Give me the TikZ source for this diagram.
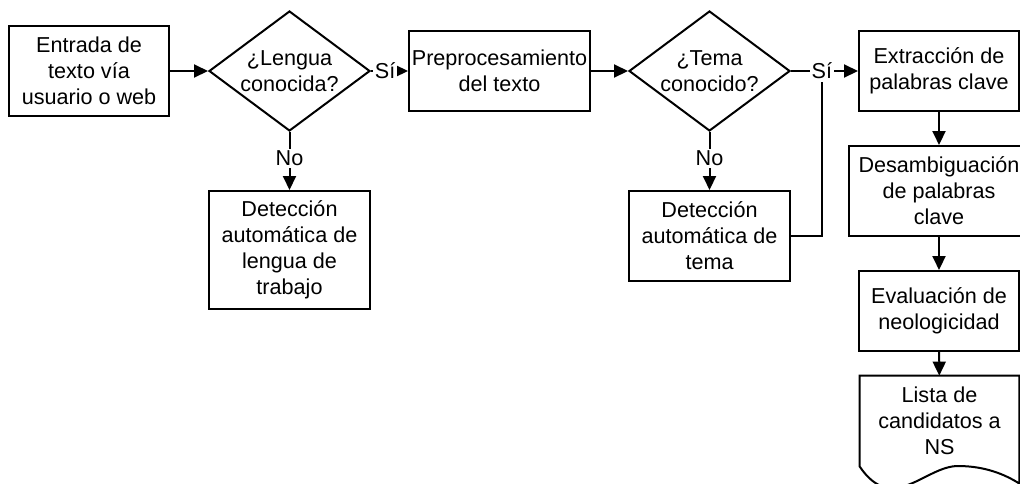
\documentclass[tikz,border=0pt]{standalone}
\usepackage{fontspec}
\setmainfont{Liberation Sans}
\usetikzlibrary{shapes,arrows.meta}
\tikzset{
	proc/.style={rectangle,draw,line width=1pt,align=center,inner sep=1pt},
	decis/.style={diamond,draw,line width=1pt,align=center,inner sep=0pt,aspect=1.34,minimum width=80.5pt,minimum height=60pt},
	docu/.style={rectangle,align=center,inner sep=1pt,minimum width=79.5pt,minimum height=45pt},
	flow/.style={-{Triangle[length=7pt,width=6.5pt]},line width=1pt},
	lbl/.style={fill=white,inner sep=1pt}
}
\begin{document}
\begin{tikzpicture}[x=0.5pt,y=-0.5pt,font=\fontsize{10.8}{13}\selectfont]
	\useasboundingbox (0,0) rectangle (1020,483);
	\clip (0,0) rectangle (1020,483);
	
	%%main row
	\node[proc,minimum width=80pt,minimum height=45pt] (entrada) at (89,71) {Entrada de\\texto vía\\usuario o web};
	\node[decis] (lengua) at (289.5,71) {¿Lengua\\conocida?};
	\node[proc,minimum width=90.5pt,minimum height=40pt] (prepro) at (499.5,71) {Preprocesamiento\\del texto};
	\node[decis] (tema) at (709.5,71) {¿Tema\\conocido?};
	\node[proc,minimum width=80pt,minimum height=40pt] (extrac) at (939,71) {Extracción de\\palabras clave};
	
	%%detection boxes
	\node[proc,minimum width=80.5pt,minimum height=59pt] (detleng) at (289.5,250) {Detección\\automática de\\lengua de\\trabajo};
	\node[proc,minimum width=80.5pt,minimum height=45pt] (dettema) at (709.5,236) {Detección\\automática de\\tema};
	
	%%right column
	\node[proc,minimum width=90pt,minimum height=45pt] (desamb) at (939,191) {Desambiguación\\de palabras\\clave};
	\node[proc,minimum width=80pt,minimum height=40pt] (evalua) at (939,311) {Evaluación de\\neologicidad};
	\node[docu] (lista) at (939.5,421) {Lista de\\candidatos a\\NS};
	\draw[line width=1pt] (lista.north west) -- (lista.north east) -- ++(0,108)
		.. controls +(-14,-9) and +(27,0) .. (958,466)
		.. controls +(-33,0) and +(33,49) .. (lista.south west) -- cycle;
	
	%%edges
	\draw[flow] (entrada) -- (lengua);
	\draw[flow] (lengua) to node[lbl,pos=0.38] (si1) {Sí} (prepro);
	\draw[flow] (prepro) -- (tema);
	\draw[flow] (tema) to node[lbl,pos=0.46] (si2) {Sí} (extrac);
	\draw[flow] (lengua) to node[lbl,pos=0.45] (no1) {No} (detleng);
	\draw[flow] (tema) to node[lbl,pos=0.45] (no2) {No} (dettema);
	\draw[line width=1pt] (dettema) -| (si2);
	
	\draw[flow] (extrac) -- (desamb);
	\draw[flow] (desamb) -- (evalua);
	\draw[flow] (evalua) -- (lista);
	
\end{tikzpicture}
\end{document}
